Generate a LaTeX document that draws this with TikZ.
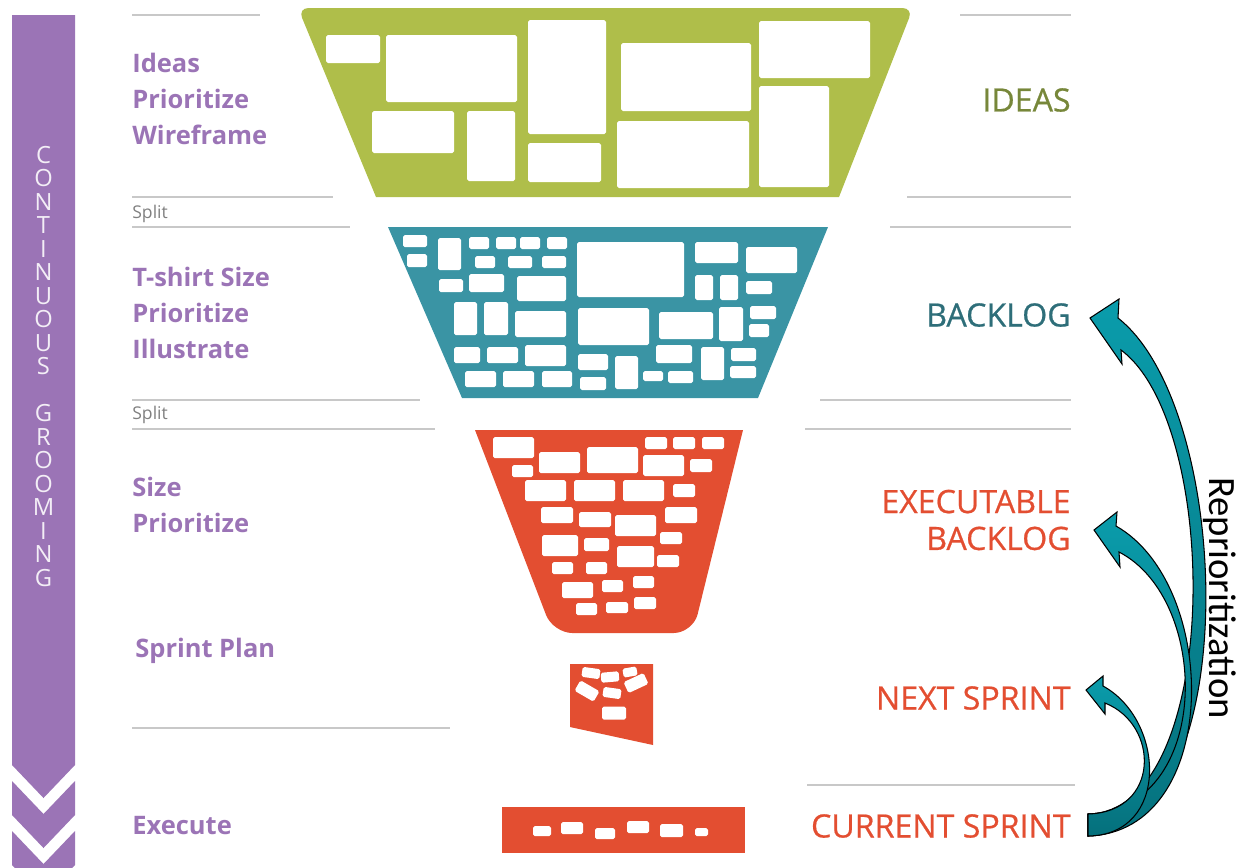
\documentclass[tikz,border=0pt]{standalone}
\usepackage{fontspec}
\setmainfont{Open Sans}
\newfontfamily\calibri{Carlito}

\definecolor{groom}{HTML}{9B74B6}
\definecolor{ideagreen}{HTML}{AFBE4A}
\definecolor{ideatext}{HTML}{77873A}
\definecolor{logteal}{HTML}{3A94A4}
\definecolor{logtext}{HTML}{2E6E79}
\definecolor{sprintred}{HTML}{E34E31}
\definecolor{rule}{HTML}{C8C8C8}
\definecolor{arrowteal}{HTML}{0A9CAB}
\definecolor{arrowdark}{HTML}{05707C}

\tikzset{
    card/.style={fill=white, rounded corners=1pt},
    sep/.style={draw=rule, line width=1.3pt},
    task/.style={text=groom, font=\fontsize{14.5}{20.4}\selectfont\bfseries, anchor=west, align=left, inner sep=0pt},
    split/.style={text=gray, font=\fontsize{10}{12}\selectfont, anchor=west, inner sep=0pt},
    stage/.style={font=\fontsize{18.3}{21}\selectfont\addfontfeature{FakeBold=0.6}, anchor=east, align=right, inner sep=0pt},
    letter/.style={text=white!88!groom, font=\fontsize{13.5}{14}\selectfont, inner sep=0pt},
    reprio/.style={top color=arrowteal, bottom color=arrowdark, draw=black, line width=0.6pt},
}

\begin{document}
\begin{tikzpicture}[x=0.02cm, y=-0.02cm]
    \useasboundingbox (0,0) rectangle (1241,867);

    % grooming bar with chevrons
    \fill[groom] (12,15) -- (75,15) -- (75,765) -- (43.5,798) -- (12,765) -- cycle;
    \fill[groom] (12,781) -- (43.5,814) -- (75,781) -- (75,815) -- (43.5,848) -- (12,815) -- cycle;
    \fill[groom] (12,831) -- (43.5,864) -- (75,831) -- (75,865) -- (43.5,898) -- (12,865) -- cycle;
    \foreach \c [count=\i from 0] in {C,O,N,T,I,N,U,O,U,S}
        \node[letter] (g\i) at (43.5,{155+\i*23.5}) {\c};
    \foreach \c [count=\i from 11] in {G,R,O,O,M,I,N,G}
        \node[letter] (g\i) at (43.5,{155+\i*23.5}) {\c};

    % separators
    \foreach \a/\b/\y in {132/260/15, 132/333/197, 132/350/227, 132/420/400, 132/435/429, 132/450/728,
                          960/1071/15, 907/1071/197, 890/1071/227, 820/1071/400, 805/1071/429, 807/1075/785}
        \draw[sep] (\a,\y) -- (\b,\y);

    % ideas
    \fill[ideagreen] (376,197) [rounded corners=6pt] -- (298,8) -- (913,8) [sharp corners] -- (839,197) -- cycle;
    \foreach \a/\b/\c/\d in {326/35/380/63, 386/35/517/102, 528/20/606/134, 621/43/751/111, 759/21/870/78,
                             372/111/454/153, 467/111/515/181, 528/143/601/182, 617/121/749/188, 759/86/829/187}
        \fill[card] (\a,\b) rectangle (\c,\d);

    % backlog
    \fill[logteal] (388,227) -- (828,227) -- (758,398) -- (462,398) -- cycle;
    \foreach \a/\b/\c/\d in {403/235/427/247, 407/254/427/267, 438/238/461/270, 469/237/489/249, 496/237/516/249,
                             520/237/540/249, 547/237/567/249, 475/256/495/268, 508/256/532/268, 542/256/566/268,
                             577/242/684/297, 695/242/738/263, 746/247/797/273, 439/279/463/292, 469/274/504/292,
                             517/276/566/301, 695/275/713/300, 720/275/738/300, 746/281/772/294, 454/302/477/335,
                             484/302/508/335, 515/311/566/337, 578/308/649/345, 659/312/713/339, 719/307/743/341,
                             750/306/776/319, 749/324/769/337, 454/347/480/363, 487/347/518/363, 525/345/566/366,
                             578/354/608/370, 615/356/638/389, 656/345/692/363, 701/347/724/380, 731/348/756/361,
                             730/366/756/378, 465/371/496/387, 503/371/534/387, 542/371/572/387, 580/377/606/390,
                             643/371/663/381, 668/371/693/383}
        \fill[card] (\a,\b) rectangle (\c,\d);

    % executable backlog
    \fill[sprintred] (475,430) -- (743,430) [rounded corners=11pt] -- (693,633) -- (553,633) [sharp corners] -- cycle;
    \foreach \a/\b/\c/\d in {493/437/534/458, 512/465/533/477, 539/452/580/473, 587/447/638/473, 645/437/667/449,
                             673/437/695/449, 702/437/724/449, 643/455/684/476, 690/459/712/472, 525/480/566/501,
                             574/480/615/501, 623/480/664/501, 673/484/695/497, 541/507/573/523, 579/512/611/527,
                             615/515/656/536, 665/507/697/523, 542/535/578/556, 584/538/609/551, 660/532/682/544,
                             617/546/654/567, 657/555/679/567, 552/562/573/574, 586/562/607/574, 562/582/593/598,
                             602/580/623/592, 633/576/654/588, 576/603/597/615, 606/602/628/613, 634/597/656/609}
        \fill[card] (\a,\b) rectangle (\c,\d);

    % next sprint
    \fill[sprintred] (570,664) -- (653,664) -- (653,745) -- (570,727) -- cycle;
    \foreach \x/\y/\w/\h/\r in {591/673/18/10/-8, 610/677/18/10/5, 630/672/14/9/10, 587/691/22/12/-30,
                                612/693/18/10/-8, 636/683/22/12/25, 614/713/24/13/0}
        \fill[card, rotate around={\r:(\x,\y)}] ({\x-\w/2},{\y-\h/2}) rectangle ({\x+\w/2},{\y+\h/2});

    % current sprint
    \fill[sprintred] (502,807) rectangle (745,853);
    \foreach \a/\b/\c/\d in {533/826/551/836, 561/822/583/834, 595/828/615/839, 627/821/649/833,
                             660/824/683/837, 695/828/708/836}
        \fill[card] (\a,\b) rectangle (\c,\d);

    % left column
    \node[task] (l1) at (132,99) {Ideas\\Prioritize\\Wireframe};
    \node[split] (p1) at (132,214) {Split};
    \node[task] (l2) at (132,313) {T-shirt Size\\Prioritize\\Illustrate};
    \node[split] (p2) at (132,415) {Split};
    \node[task] (l3) at (132,505) {Size\\Prioritize};
    \node[task] (l4) at (135,651) {Sprint Plan};
    \node[task] (l5) at (132,826) {Execute};

    % right column
    \node[stage, text=ideatext] (r1) at (1071,100) {IDEAS};
    \node[stage, text=logtext] (r2) at (1071,315) {BACKLOG};
    \node[stage, text=sprintred] (r3) at (1071,520) {EXECUTABLE\\BACKLOG};
    \node[stage, text=sprintred] (r4) at (1071,698) {NEXT SPRINT};
    \node[stage, text=sprintred] (r5) at (1071,826) {CURRENT SPRINT};

    % reprioritization arrows
    \draw[reprio] (1088,836) .. controls (1245,832) and (1235,410) .. (1118,318) -- (1119,299) -- (1090,318)
        -- (1122,364) -- (1121,350) .. controls (1222,425) and (1222,812) .. (1088,814) -- cycle;
    \draw[reprio] (1088,836) .. controls (1222,832) and (1220,585) .. (1116,526) -- (1117,512) -- (1094,530)
        -- (1120,567) -- (1119,552) .. controls (1212,600) and (1212,810) .. (1088,814) -- cycle;
    \draw[reprio] (1088,836) .. controls (1170,835) and (1165,720) .. (1103,686) -- (1103,676) -- (1086,690)
        -- (1105,714) -- (1105,703) .. controls (1160,725) and (1160,812) .. (1088,814) -- cycle;
    \node[rotate=-90, font=\calibri\fontsize{22}{24}\selectfont] (rp) at (1220,598) {Reprioritization};
\end{tikzpicture}
\end{document}
